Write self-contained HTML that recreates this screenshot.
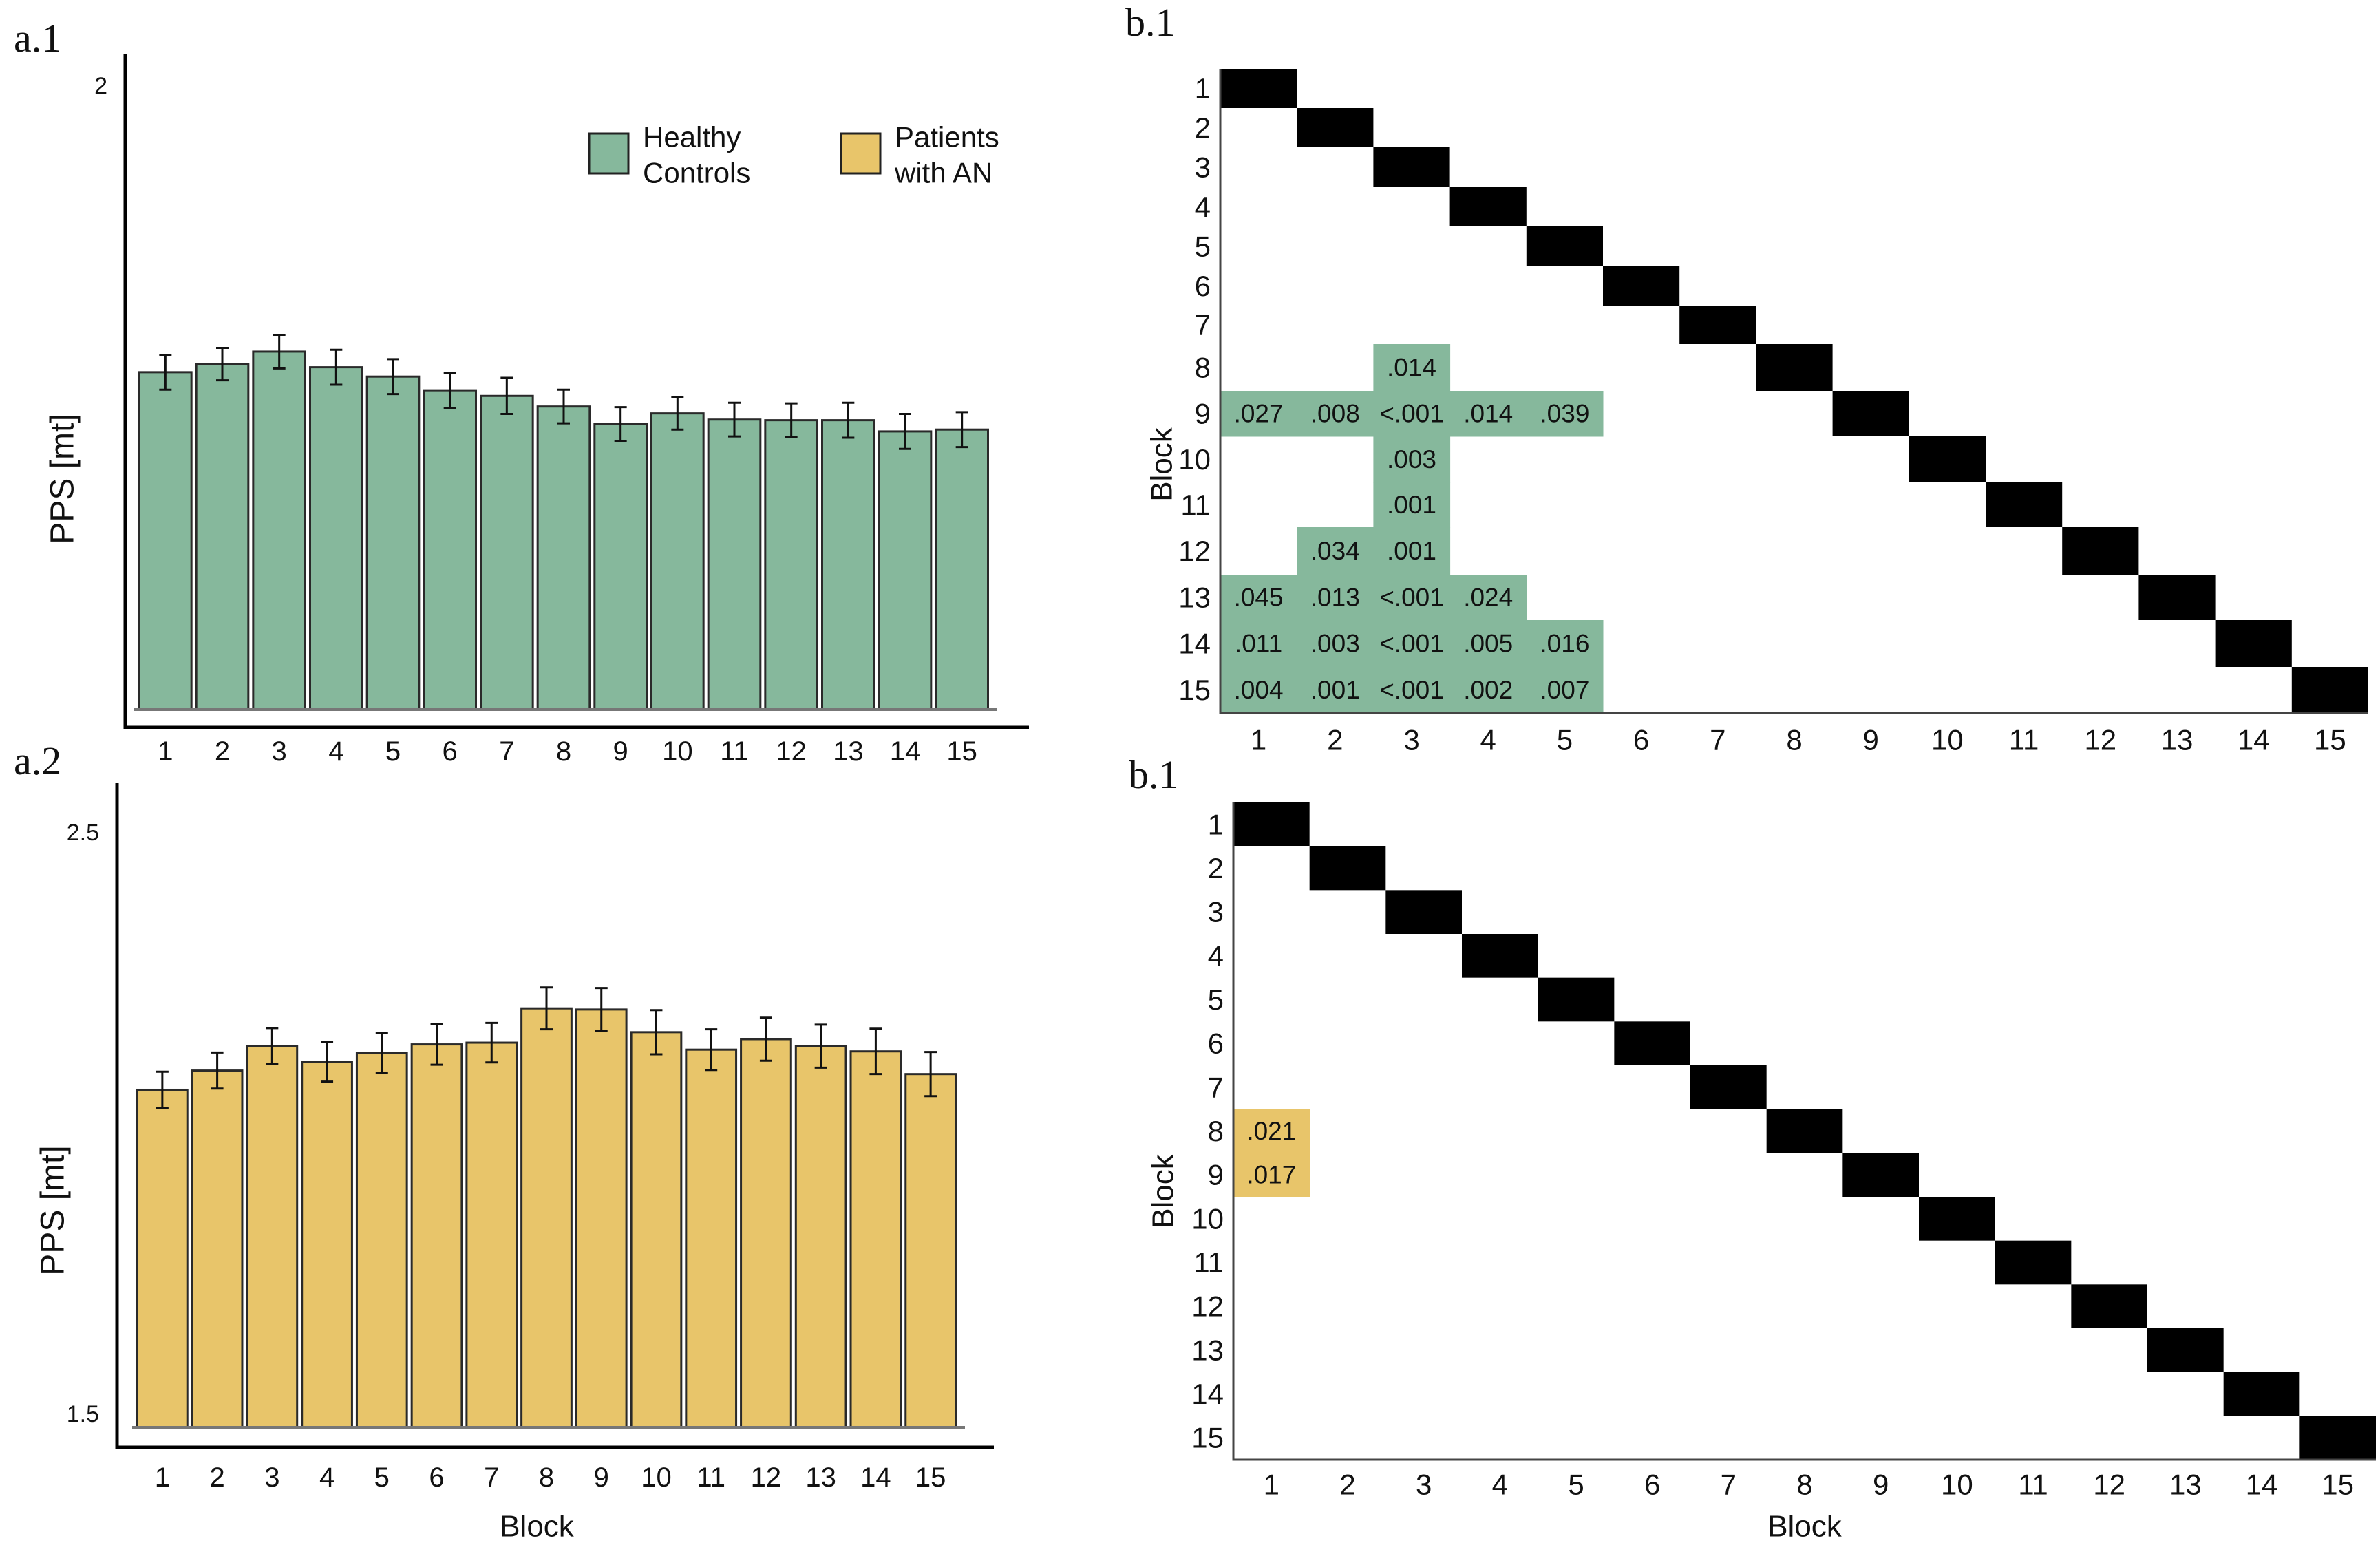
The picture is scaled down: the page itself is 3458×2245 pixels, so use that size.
<!DOCTYPE html>
<html><head><meta charset="utf-8"><style>
html,body{margin:0;padding:0;background:#fff;}
svg{display:block;}
text{font-family:"Liberation Sans",sans-serif;fill:#111;}
.serif{font-family:"Liberation Serif",serif;}
</style></head><body>
<svg id="fig" width="3458" height="2245" viewBox="0 0 3458 2245" xmlns="http://www.w3.org/2000/svg">
<g id="a1"></g>
<g id="a2"></g>
<g id="b1"></g>
<g id="b2"></g>
</svg>
<script>
const blocks = ["1","2","3","4","5","6","7","8","9","10","11","12","13","14","15"];
const hcValues = [1.541,1.554,1.574,1.549,1.534,1.512,1.503,1.486,1.458,1.475,1.465,1.464,1.464,1.446,1.449];
const hcErrors = [0.028,0.026,0.027,0.028,0.028,0.028,0.029,0.027,0.027,0.026,0.027,0.027,0.028,0.028,0.028];
const anValues = [2.058,2.091,2.133,2.106,2.121,2.136,2.139,2.198,2.196,2.157,2.127,2.145,2.133,2.124,2.085];
const anErrors = [0.031,0.031,0.031,0.034,0.034,0.035,0.034,0.036,0.037,0.038,0.035,0.037,0.037,0.039,0.038];
const hcTicks = [2];
const anTicks = [1.5,2.5];
// significant pairwise p-values: [row, col, label]
const hcSig = [[8,3,".014"],[9,1,".027"],[9,2,".008"],[9,3,"<.001"],[9,4,".014"],[9,5,".039"],
 [10,3,".003"],[11,3,".001"],[12,2,".034"],[12,3,".001"],
 [13,1,".045"],[13,2,".013"],[13,3,"<.001"],[13,4,".024"],
 [14,1,".011"],[14,2,".003"],[14,3,"<.001"],[14,4,".005"],[14,5,".016"],
 [15,1,".004"],[15,2,".001"],[15,3,"<.001"],[15,4,".002"],[15,5,".007"]];
const anSig = [[8,1,".021"],[9,1,".017"]];

const NS="http://www.w3.org/2000/svg";
function mk(parent,tag,attrs,txt){const e=document.createElementNS(NS,tag);for(const k in attrs)e.setAttribute(k,attrs[k]);if(txt!==undefined)e.textContent=txt;parent.appendChild(e);return e;}

function barPanel(g,cfg,values,errors,ticks,color){
  const y=v=>cfg.y0+(v-cfg.v0)*(cfg.y1-cfg.y0)/(cfg.v1-cfg.v0);
  const pitch=(cfg.barX1-cfg.barX0)/blocks.length;
  const bw=pitch-cfg.gap;
  const x=i=>cfg.barX0+i*pitch+cfg.gap/2;
  let t=mk(g,'text',{x:cfg.labelX,y:cfg.labelY,'font-size':58,class:'serif'},cfg.label);
  
  
  blocks.forEach((b,i)=>{
    const top=y(values[i]);
    const r=mk(g,'rect',{x:x(i),y:top,width:bw,height:cfg.base-top,fill:color,stroke:'#2a2a2a','stroke-width':3});
    
    
    const cx=x(i)+bw/2, e1=y(values[i]+errors[i]), e2=y(values[i]-errors[i]);
    const eb=mk(g,'path',{d:`M${cx},${e1}V${e2}M${cx-9},${e1}H${cx+9}M${cx-9},${e2}H${cx+9}`,stroke:'#111','stroke-width':3,fill:'none'});
    
    
    const tl=mk(g,'text',{x:cx,y:cfg.tickY,'font-size':40,'text-anchor':'middle','dominant-baseline':'central'},b);
    
    
  });
  const bl=mk(g,'line',{x1:cfg.barX0-4,x2:cfg.barX1+10,y1:cfg.base,y2:cfg.base,stroke:'#777','stroke-width':4});
  
  
  const ax=mk(g,'path',{d:`M${cfg.axX},${cfg.axTop}V${cfg.axBot}H${cfg.axRight}`,stroke:'#000','stroke-width':5,fill:'none'});
  
  
  ticks.forEach(v=>{
    const tk=mk(g,'text',{x:cfg.axX-26,y:y(v),'font-size':34,'text-anchor':'end','dominant-baseline':'central'},String(v));
    
    
  });
  const yt=mk(g,'text',{x:0,y:0,'font-size':48,'text-anchor':'middle','dominant-baseline':'central',transform:`translate(${cfg.yTitleX},${cfg.yTitleY}) rotate(-90)`},'PPS [mt]');
  
  
}

barPanel(document.getElementById('a1'),{v0:1,v1:2,y0:1031,y1:125,base:1031,barX0:199,barX1:1439,gap:7,
  tickY:1092,axX:182,axTop:79,axBot:1057,axRight:1495,label:'a.1',labelX:20,labelY:75,yTitleX:91,yTitleY:696},
  hcValues,hcErrors,hcTicks,'#86b89c');
barPanel(document.getElementById('a2'),{v0:1.5,v1:2.5,y0:2055,y1:1210,base:2074,barX0:196,barX1:1392,gap:7,
  tickY:2147,axX:170,axTop:1138,axBot:2103,axRight:1444,label:'a.2',labelX:20,labelY:1125,yTitleX:77,yTitleY:1759},
  anValues,anErrors,anTicks,'#e8c56a');

// Legend in a.1
(function(){
  const g=document.getElementById('a1');
  const lg=mk(g,'g',{});
  
  
  const items=[["Healthy","Controls",'#86b89c',856],["Patients","with AN",'#e8c56a',1222]];
  items.forEach(([l1,l2,c,x0])=>{
    const e=mk(lg,'g',{});
    
    
    mk(e,'rect',{x:x0,y:194,width:57,height:58,fill:c,stroke:'#222','stroke-width':3});
    mk(e,'text',{x:x0+78,y:199,'font-size':42,'dominant-baseline':'central'},l1);
    mk(e,'text',{x:x0+78,y:251,'font-size':42,'dominant-baseline':'central'},l2);
  });
})();

function matrix(g,cfg,sig,color){
  const colW=(cfg.x1-cfg.x0)/15;
  const rowTop=r=>cfg.rowEdges?cfg.rowEdges[r-1]:cfg.y0+(r-1)*(cfg.y1-cfg.y0)/15;
  const rowBot=r=>cfg.rowEdges?cfg.rowEdges[r]:cfg.y0+r*(cfg.y1-cfg.y0)/15;
  const colX=c=>cfg.x0+(c-1)*colW;
  const t=mk(g,'text',{x:cfg.labelX,y:cfg.labelY,'font-size':58,class:'serif'},'b.1');
  
  
  sig.forEach(([r,c,lab])=>{
    const cell=mk(g,'rect',{x:colX(c),y:rowTop(r),width:colW+0.5,height:rowBot(r)-rowTop(r)+0.5,fill:color});
    
    
    const tx=mk(g,'text',{x:colX(c)+colW/2,y:(rowTop(r)+rowBot(r))/2,'font-size':37,'text-anchor':'middle','dominant-baseline':'central'},lab);
    
    
  });
  blocks.forEach((b,i)=>{
    const r=i+1;
    const d=mk(g,'rect',{x:colX(r),y:rowTop(r),width:colW,height:rowBot(r)-rowTop(r),fill:'#000'});
    
    
    const rl=mk(g,'text',{x:cfg.x0-14,y:(rowTop(r)+rowBot(r))/2,'font-size':42,'text-anchor':'end','dominant-baseline':'central'},b);
    
    
    const cl=mk(g,'text',{x:colX(r)+colW/2,y:cfg.colLabelY,'font-size':42,'text-anchor':'middle','dominant-baseline':'central'},b);
    
    
  });
  const ax=mk(g,'path',{d:`M${cfg.x0},${cfg.y0}V${cfg.y1}H${cfg.x1}`,stroke:'#444','stroke-width':3,fill:'none'});
  
  
  const yt=mk(g,'text',{x:0,y:0,'font-size':44,'text-anchor':'middle','dominant-baseline':'central',transform:`translate(${cfg.yTitleX},${cfg.yTitleY}) rotate(-90)`},'Block');
  
  
  if(cfg.xTitleY){
    const xt=mk(g,'text',{x:(cfg.x0+cfg.x1)/2,y:cfg.xTitleY,'font-size':44,'text-anchor':'middle','dominant-baseline':'central'},'Block');
    
    
  }
}
matrix(document.getElementById('b1'),{x0:1773,x1:3441,y0:100,y1:1036,
  rowEdges:[100,157,214,272,329,387,444,500,568,634,701,766,835,901,969,1036],
  colLabelY:1075,labelX:1635,labelY:52,yTitleX:1688,yTitleY:675},hcSig,'#86b89c');
matrix(document.getElementById('b2'),{x0:1792,x1:3452,y0:1166,y1:2121,
  colLabelY:2157,labelX:1640,labelY:1145,yTitleX:1690,yTitleY:1731,xTitleY:2218},anSig,'#e8c56a');

// x-axis title for a.2
(function(){
  const g=document.getElementById('a2');
  const xt=mk(g,'text',{x:780,y:2218,'font-size':44,'text-anchor':'middle','dominant-baseline':'central'},'Block');
  
  
})();
</script>
</body></html>
